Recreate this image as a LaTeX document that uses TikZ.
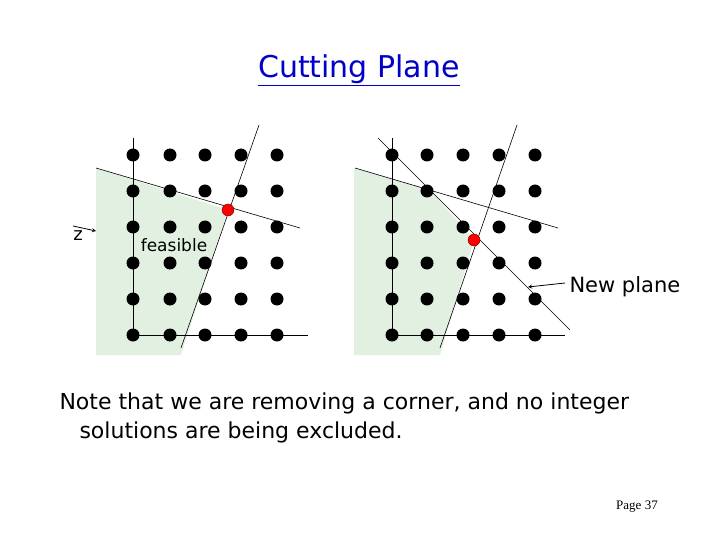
\documentclass[tikz,border=0pt]{standalone}
\usepackage{fontspec}
\setmainfont{DejaVu Sans}
\newfontfamily\serifp{Liberation Serif}
\definecolor{feasgreen}{RGB}{226,240,226}
\definecolor{titleblue}{RGB}{0,0,200}
\begin{document}
\begin{tikzpicture}[x=1pt,y=-1pt,
  dot/.style={circle,fill=black,inner sep=0pt,minimum size=13pt},
  rdot/.style={circle,fill=red,draw=black!60!red,inner sep=0pt,minimum size=12pt},
  ln/.style={line width=0.6pt},
  ax/.style={line width=1pt}]
\useasboundingbox (0,0) rectangle (720,540);
\node[text=titleblue,font=\fontsize{30}{36}\selectfont] (title) at (359,70) {\underline{Cutting Plane}};
% left panel
\fill[feasgreen] (96,168) -- (228,210) -- (181,355) -- (96,355) -- cycle;
\draw[ax] (133,138) -- (133,335) -- (308,335);
\foreach \i/\x in {1/133,2/170,3/205,4/241,5/277}
  \foreach \j/\y in {1/155,2/191,3/227,4/263,5/299,6/335}
    \node[dot] (L\i\j) at (\x,\y) {};
\draw[ln] (96,168) -- (300,228);
\draw[ln] (259,125) -- (181,348);
\node[rdot] (Lr) at (228,210) {};
\node[font=\fontsize{17}{20}\selectfont] (feas) at (174,245) {feasible};
\node[font=\fontsize{18}{20}\selectfont] (z) at (78,236) {z};
\coordinate (za) at (73,226); \coordinate (zb) at (96,231);
\draw[-stealth,line width=0.8pt] (za) -- (zb);
% right panel
\fill[feasgreen] (354,168) -- (430,190) -- (474,240) -- (440,355) -- (354,355) -- cycle;
\draw[ax] (392,138) -- (392,335) -- (565,335);
\foreach \i/\x in {1/392,2/427,3/463,4/499,5/535}
  \foreach \j/\y in {1/155,2/191,3/227,4/263,5/299,6/335}
    \node[dot] (R\i\j) at (\x,\y) {};
\draw[ln] (355,168) -- (558,228);
\draw[ln] (517,125) -- (440,348);
\draw[ln] (378,138) -- (570,330);
\node[rdot] (Rr) at (474,240) {};
\node[font=\fontsize{21}{24}\selectfont,anchor=west] (np) at (566,287) {New plane};
\coordinate (pa) at (565,283); \coordinate (pb) at (528,287);
\draw[line width=0.8pt,-stealth] (pa) -- (pb);
% note
\node[font=\fontsize{22}{29}\selectfont,anchor=west,align=left] (note) at (56,418)
  {Note that we are removing a corner, and no integer\\\hspace*{20pt}solutions are being excluded.};
\node[font=\serifp\fontsize{13}{15}\selectfont] (page) at (637,507) {Page 37};
\end{tikzpicture}
\end{document}
